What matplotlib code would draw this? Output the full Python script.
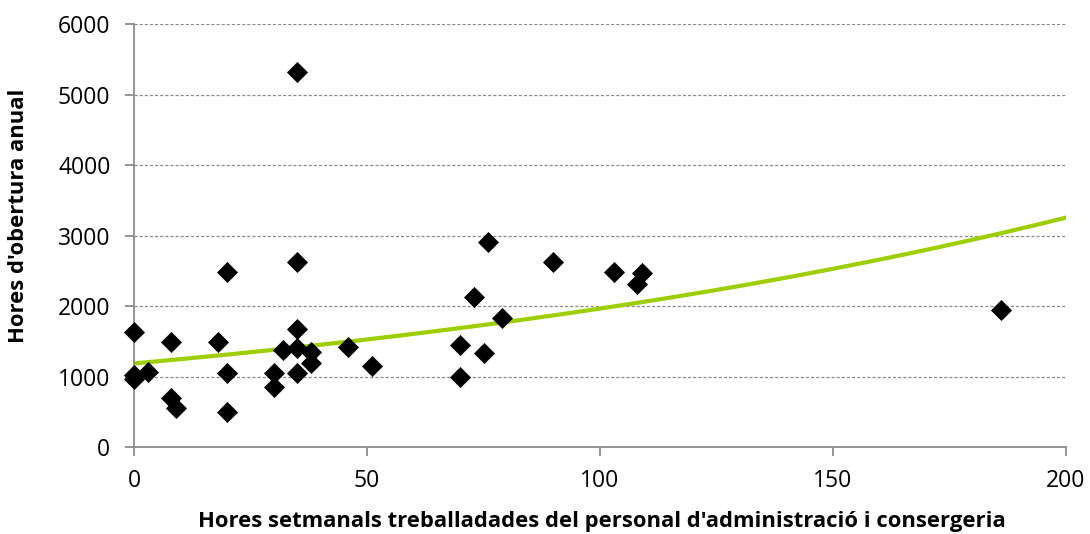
import matplotlib.pyplot as plt
import numpy as np

hores_setmanals = [0, 0, 0, 3, 8, 8, 9, 18, 20, 20, 20, 30, 30, 32, 35, 35, 35, 35, 35,
                   38, 38, 46, 51, 70, 70, 73, 75, 76, 79, 90, 103, 108, 109, 186]
hores_obertura = [1637, 1028, 960, 1070, 1495, 700, 560, 1495, 1055, 2485, 490, 1055, 855,
                  1380, 5320, 2625, 1675, 1400, 1045, 1350, 1195, 1425, 1150, 1450, 1000,
                  2130, 1340, 2910, 1830, 2625, 2485, 2310, 2470, 1940]

# tendencia exponencial (llegida del grafic)
tend_a = 1185
tend_k = 0.00505

fig = plt.figure(figsize=(10.9, 5.34), dpi=100)
ax = fig.add_axes([134 / 1090, 1 - 447 / 534, 932 / 1090, 423 / 534])

ax.scatter(hores_setmanals, hores_obertura, marker='D', s=115, color='black', lw=0,
           zorder=3, clip_on=False)

xt = np.linspace(0, 200, 200)
ax.plot(xt, tend_a * np.exp(tend_k * xt), color='#9dcf00', lw=3, zorder=2)

ax.set_xlim(0, 200)
ax.set_ylim(0, 6000)
ax.set_xticks([0, 50, 100, 150, 200])
ax.set_yticks(range(0, 6001, 1000))
ax.grid(axis='y', linestyle='--', color='#8c8c8c', lw=0.9, dashes=(2.5, 1.6))
ax.set_axisbelow(True)
for s in ['top', 'right']:
    ax.spines[s].set_visible(False)
for s in ['left', 'bottom']:
    ax.spines[s].set_color('#8c8c8c')
    ax.spines[s].set_linewidth(1.3)
ax.tick_params(colors='#8c8c8c', labelcolor='black', labelsize=16.5, length=6.5, width=1.3)
for lab in ax.get_xticklabels() + ax.get_yticklabels():
    lab.set_family('Open Sans')
ax.tick_params(axis='x', pad=9)
ax.tick_params(axis='y', pad=10.5)

fig.text(602 / 1090, 1 - 522 / 534,
         "Hores setmanals treballadades del personal d'administració i consergeria",
         fontsize=15.8, fontweight='bold', family='Open Sans', ha='center', va='center')
fig.text(19 / 1090, 1 - 216 / 534, "Hores d'obertura anual", rotation=90,
         fontsize=15.8, fontweight='bold', family='Open Sans', ha='center', va='center')

fig.savefig('out.png')
